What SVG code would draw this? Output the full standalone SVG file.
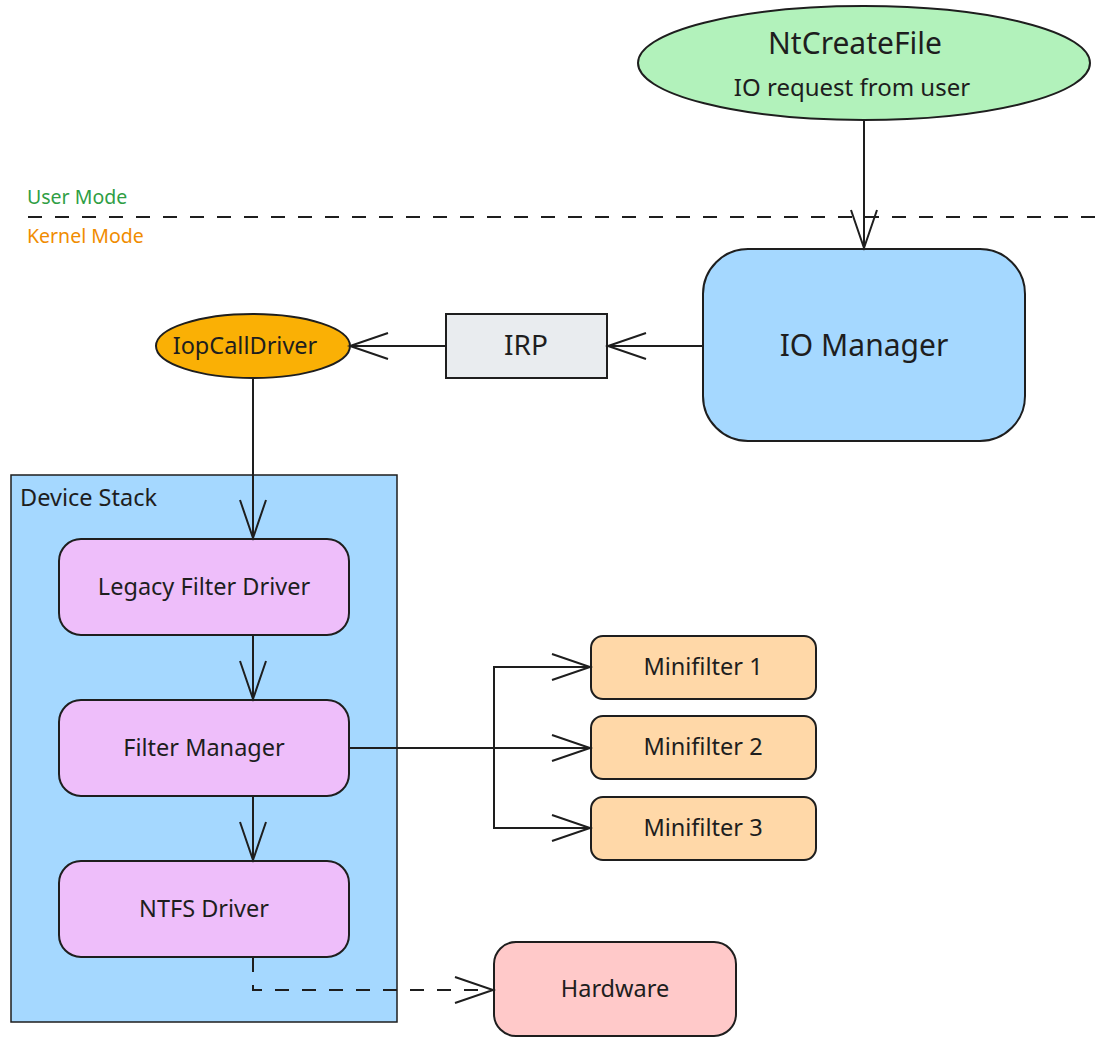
<svg xmlns="http://www.w3.org/2000/svg" width="1106" height="1039" viewBox="0 0 1106 1039">
  <style>
    text { font-family: "Noto Sans", "Open Sans", "DejaVu Sans", sans-serif; fill: #1e1e1e; text-anchor: middle; dominant-baseline: central; }
    .edge { fill: none; stroke: #1e1e1e; stroke-width: 2; }
    .dash { stroke-dasharray: 14 13; }
    .node { stroke: #1e1e1e; stroke-width: 2; }
    .driver { fill: #eebefa; }
    .mini { fill: #ffd8a8; }
  </style>
  <defs>
    <marker id="arrow" markerUnits="userSpaceOnUse" markerWidth="50" markerHeight="40" viewBox="-42 -20 50 40" refX="0" refY="0" orient="auto" overflow="visible">
      <path d="M-38,-13 L0,0 L-38,13" fill="none" stroke="#1e1e1e" stroke-width="2" stroke-dasharray="none"/>
    </marker>
  </defs>

  <!-- user / kernel boundary -->
  <g id="mode-boundary">
    <line x1="28" y1="217" x2="1106" y2="217" class="edge dash"/>
    <text x="27" y="196" style="text-anchor:start; fill:#2f9e44; font-size:19.5px">User Mode</text>
    <text x="27" y="235" style="text-anchor:start; fill:#f08c00; font-size:19.5px">Kernel Mode</text>
  </g>

  <!-- device stack container -->
  <g id="device-stack">
    <rect x="11" y="475" width="386" height="547" fill="#a5d8ff" stroke="#1e1e1e" stroke-width="1.5"/>
    <text x="20" y="497" style="text-anchor:start; font-size:23.5px">Device Stack</text>
  </g>

  <g id="ntcreatefile">
    <ellipse cx="864" cy="63" rx="226" ry="57" fill="#b2f2bb" class="node"/>
    <text x="855" y="42" font-size="30">NtCreateFile</text>
    <text x="852" y="86" font-size="24">IO request from user</text>
  </g>

  <g id="io-manager">
    <rect x="703" y="249" width="322" height="192" rx="45" fill="#a5d8ff" class="node"/>
    <text x="864" y="344" font-size="30">IO Manager</text>
  </g>

  <g id="irp">
    <rect x="446" y="314" width="161" height="64" fill="#e9ecef" class="node"/>
    <text x="526" y="344" font-size="28">IRP</text>
  </g>

  <g id="iopcalldriver">
    <ellipse cx="253" cy="346" rx="97" ry="32" fill="#fab005" class="node"/>
    <text x="245" y="345" font-size="23.5">IopCallDriver</text>
  </g>

  <g id="legacy-filter-driver">
    <rect x="59" y="539" width="290" height="96" rx="22" class="node driver"/>
    <text x="204" y="586" font-size="23.5">Legacy Filter Driver</text>
  </g>

  <g id="filter-manager">
    <rect x="59" y="700" width="290" height="96" rx="22" class="node driver"/>
    <text x="204" y="747" font-size="23.5">Filter Manager</text>
  </g>

  <g id="ntfs-driver">
    <rect x="59" y="861" width="290" height="96" rx="22" class="node driver"/>
    <text x="204" y="908" font-size="23.5">NTFS Driver</text>
  </g>

  <g id="minifilter-1">
    <rect x="591" y="636" width="225" height="63" rx="12" class="node mini"/>
    <text x="703" y="666" font-size="23.5">Minifilter 1</text>
  </g>

  <g id="minifilter-2">
    <rect x="591" y="716" width="225" height="63" rx="12" class="node mini"/>
    <text x="703" y="746" font-size="23.5">Minifilter 2</text>
  </g>

  <g id="minifilter-3">
    <rect x="591" y="797" width="225" height="63" rx="12" class="node mini"/>
    <text x="703" y="827" font-size="23.5">Minifilter 3</text>
  </g>

  <g id="hardware">
    <rect x="494" y="942" width="242" height="94" rx="22" fill="#ffc9c9" class="node"/>
    <text x="615" y="988" font-size="23.5">Hardware</text>
  </g>

  <!-- connectors -->
  <g id="connectors">
    <path d="M864,120 L864,248" class="edge" marker-end="url(#arrow)"/>
    <path d="M703,346 L608,346" class="edge" marker-end="url(#arrow)"/>
    <path d="M446,346 L350,346" class="edge" marker-end="url(#arrow)"/>
    <path d="M253,378 L253,538" class="edge" marker-end="url(#arrow)"/>
    <path d="M253,635 L253,699" class="edge" marker-end="url(#arrow)"/>
    <path d="M253,796 L253,860" class="edge" marker-end="url(#arrow)"/>
    <path d="M349,748 L590,748" class="edge" marker-end="url(#arrow)"/>
    <path d="M494,748 L494,667 L590,667" class="edge" marker-end="url(#arrow)"/>
    <path d="M494,748 L494,828 L590,828" class="edge" marker-end="url(#arrow)"/>
    <path d="M253,958 L253,990 L493,990" class="edge dash" marker-end="url(#arrow)"/>
  </g>
</svg>
